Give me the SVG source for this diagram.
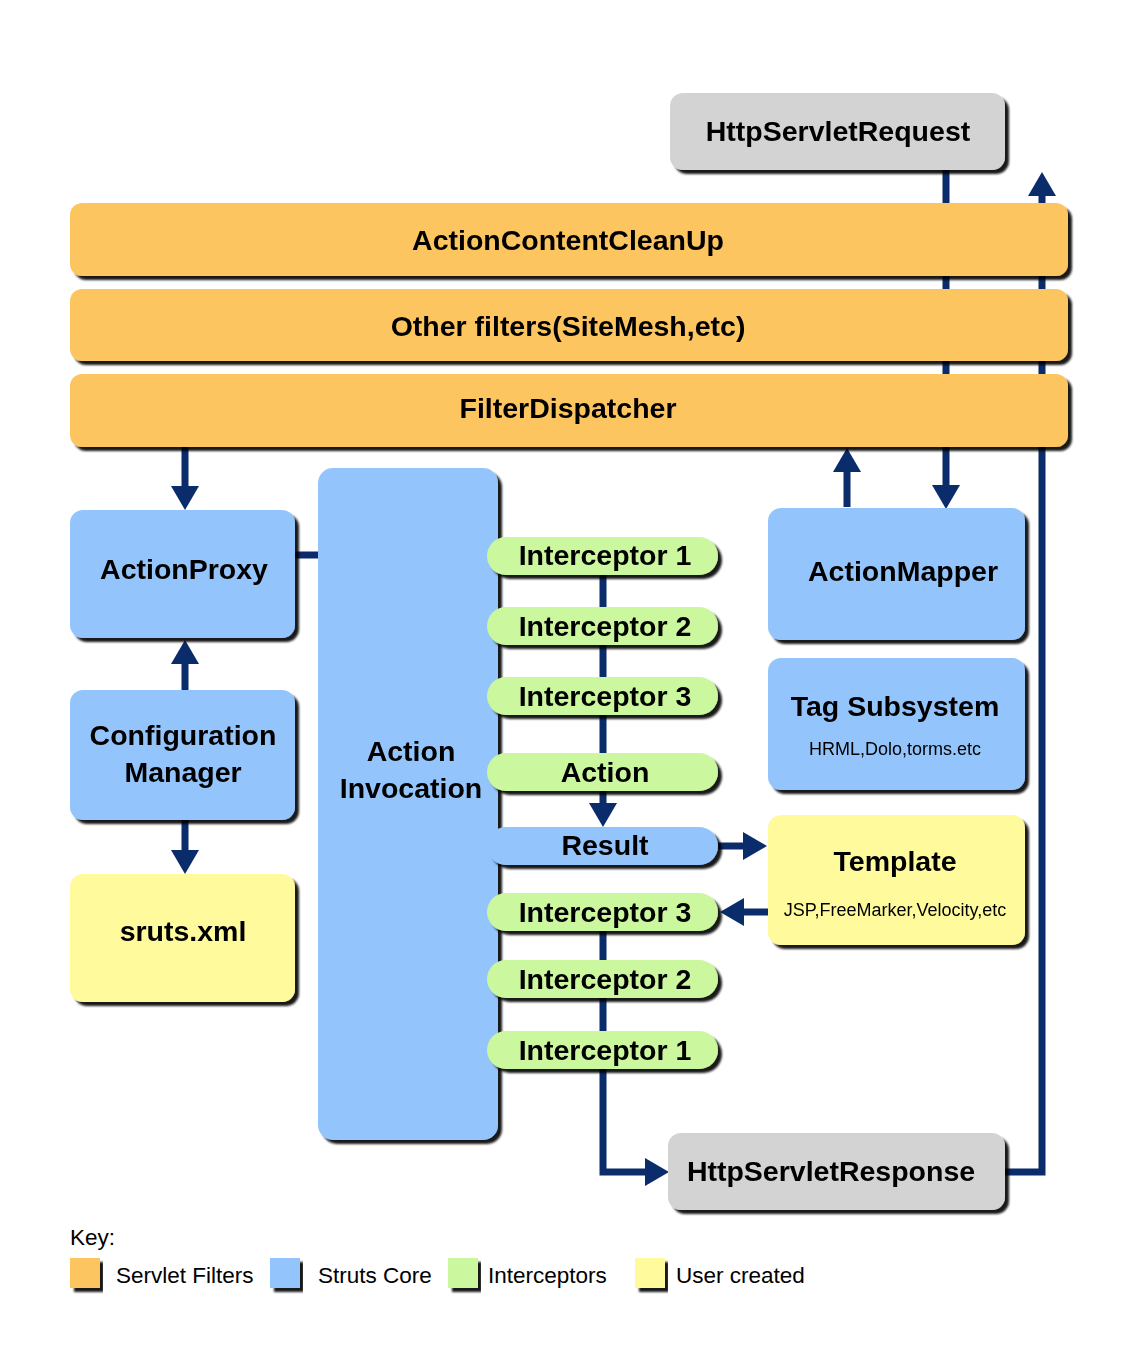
<svg xmlns="http://www.w3.org/2000/svg" width="1136" height="1361" viewBox="0 0 1136 1361">
<style>
.t{font-family:"Liberation Sans",Arial,sans-serif;font-weight:bold;font-size:28.5px;fill:#000;text-anchor:middle}
.s{font-family:"Liberation Sans",Arial,sans-serif;font-size:18px;fill:#000;text-anchor:middle}
.k{font-family:"Liberation Sans",Arial,sans-serif;font-size:22.5px;fill:#000}
.or{fill:#FDC55E}
.bl{fill:#93C5FC}
.gr{fill:#CBF79E}
.ye{fill:#FFFB9C}
.gy{fill:#D3D3D3}
.c{fill:none;stroke:#0B2C6A;stroke-width:7}
.n{filter:url(#sh)}
</style>
<defs>
<filter id="sh" x="-5%" y="-5%" width="115%" height="125%">
<feDropShadow dx="4" dy="4" stdDeviation="1" flood-color="#000" flood-opacity="0.9"/>
</filter>
<marker id="ah" markerUnits="userSpaceOnUse" markerWidth="26" markerHeight="28" refX="0" refY="14" orient="auto">
<path d="M0,0 L24,14 L0,28 Z" fill="#0B2C6A"/>
</marker>
</defs>
<rect width="1136" height="1361" fill="#fff"/>

<g id="connectors">
<path class="c" d="M946,170 V485" marker-end="url(#ah)"/>
<path class="c" d="M1005,1172 H1042 V196" marker-end="url(#ah)"/>
<path class="c" d="M185,447 V486" marker-end="url(#ah)"/>
<path class="c" d="M185,690 V664" marker-end="url(#ah)"/>
<path class="c" d="M185,820 V850" marker-end="url(#ah)"/>
<path class="c" d="M295,555 H320"/>
<path class="c" d="M847,507 V472" marker-end="url(#ah)"/>
<path class="c" d="M603,555 V803" marker-end="url(#ah)"/>
<path class="c" d="M718,846 H743" marker-end="url(#ah)"/>
<path class="c" d="M768,912 H744" marker-end="url(#ah)"/>
<path class="c" d="M603,912 V1172 H645" marker-end="url(#ah)"/>
</g>

<g id="HttpServletRequest" class="n"><rect class="gy" x="670" y="93" width="335" height="77" rx="13"/><text class="t" x="838" y="141">HttpServletRequest</text></g>
<g id="ActionContentCleanUp" class="n"><rect class="or" x="70" y="203" width="998" height="73" rx="12"/><text class="t" x="568" y="250">ActionContentCleanUp</text></g>
<g id="OtherFilters" class="n"><rect class="or" x="70" y="289" width="998" height="72" rx="12"/><text class="t" x="568" y="336">Other filters(SiteMesh,etc)</text></g>
<g id="FilterDispatcher" class="n"><rect class="or" x="70" y="374" width="998" height="73" rx="12"/><text class="t" x="568" y="418">FilterDispatcher</text></g>

<g id="ActionProxy" class="n"><rect class="bl" x="70" y="510" width="225" height="128" rx="13"/><text class="t" x="184" y="579">ActionProxy</text></g>
<g id="ConfigurationManager" class="n"><rect class="bl" x="70" y="690" width="225" height="130" rx="13"/><text class="t" x="183" y="745">Configuration</text><text class="t" x="183" y="782">Manager</text></g>
<g id="sruts" class="n"><rect class="ye" x="70" y="874" width="225" height="128" rx="13"/><text class="t" x="183" y="941">sruts.xml</text></g>

<g id="ActionInvocation" class="n"><rect class="bl" x="318" y="468" width="180" height="672" rx="15"/><text class="t" x="411" y="761">Action</text><text class="t" x="411" y="798">Invocation</text></g>

<g id="Interceptor1a" class="n"><rect class="gr" x="487" y="537" width="231" height="38" rx="19"/><text class="t" x="605" y="565">Interceptor 1</text></g>
<g id="Interceptor2a" class="n"><rect class="gr" x="487" y="607" width="231" height="38" rx="19"/><text class="t" x="605" y="636">Interceptor 2</text></g>
<g id="Interceptor3a" class="n"><rect class="gr" x="487" y="677" width="231" height="38" rx="19"/><text class="t" x="605" y="706">Interceptor 3</text></g>
<g id="Action" class="n"><rect class="gr" x="487" y="753" width="231" height="38" rx="19"/><text class="t" x="605" y="782">Action</text></g>
<g id="Result" class="n"><rect class="bl" x="487" y="827" width="231" height="38" rx="19"/><text class="t" x="605" y="855">Result</text></g>
<g id="Interceptor3b" class="n"><rect class="gr" x="487" y="893" width="231" height="38" rx="19"/><text class="t" x="605" y="922">Interceptor 3</text></g>
<g id="Interceptor2b" class="n"><rect class="gr" x="487" y="960" width="231" height="38" rx="19"/><text class="t" x="605" y="989">Interceptor 2</text></g>
<g id="Interceptor1b" class="n"><rect class="gr" x="487" y="1031" width="231" height="38" rx="19"/><text class="t" x="605" y="1060">Interceptor 1</text></g>

<g id="ActionMapper" class="n"><rect class="bl" x="768" y="508" width="257" height="132" rx="13"/><text class="t" x="903" y="581">ActionMapper</text></g>
<g id="TagSubsystem" class="n"><rect class="bl" x="768" y="658" width="257" height="132" rx="13"/><text class="t" x="895" y="716">Tag Subsystem</text><text class="s" x="895" y="755">HRML,Dolo,torms.etc</text></g>
<g id="Template" class="n"><rect class="ye" x="768" y="815" width="257" height="130" rx="13"/><text class="t" x="895" y="871">Template</text><text class="s" x="895" y="916">JSP,FreeMarker,Velocity,etc</text></g>

<g id="HttpServletResponse" class="n"><rect class="gy" x="668" y="1133" width="337" height="77" rx="13"/><text class="t" x="831" y="1181">HttpServletResponse</text></g>

<g id="key">
<text class="k" x="70" y="1245">Key:</text>
<rect class="or n" x="70" y="1258" width="30" height="30"/><text class="k" x="116" y="1283">Servlet Filters</text>
<rect class="bl n" x="270" y="1258" width="30" height="30"/><text class="k" x="318" y="1283">Struts Core</text>
<rect class="gr n" x="448" y="1258" width="30" height="30"/><text class="k" x="488" y="1283">Interceptors</text>
<rect class="ye n" x="635" y="1258" width="30" height="30"/><text class="k" x="676" y="1283">User created</text>
</g>
</svg>
